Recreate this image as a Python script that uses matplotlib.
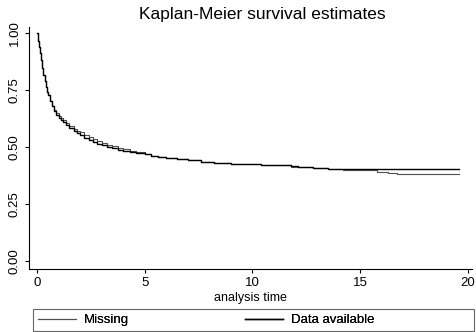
import matplotlib
matplotlib.use('Agg')
import matplotlib.pyplot as plt
from matplotlib.patches import Rectangle

plt.rcParams['font.family'] = ['Liberation Sans', 'DejaVu Sans']

# Kaplan-Meier step estimates
t_avail = [0, 0.05, 0.1, 0.15, 0.2, 0.25, 0.3, 0.35, 0.4, 0.45, 0.5, 0.6, 0.7, 0.8, 0.9,
           1.0, 1.1, 1.2, 1.35, 1.5, 1.7, 1.85, 2.0, 2.2, 2.4, 2.6, 2.8, 3.0, 3.25, 3.5,
           3.75, 4.0, 4.3, 4.6, 5.0, 5.3, 5.6, 6.0, 6.5, 7.0, 7.6, 8.2, 9.0, 9.7, 10.4,
           11.2, 11.8, 12.1, 12.8, 13.5, 14.2, 15.0, 19.6]
s_avail = [1.0, 0.965, 0.94, 0.912, 0.88, 0.845, 0.815, 0.79, 0.765, 0.743, 0.726, 0.7,
           0.678, 0.658, 0.641, 0.628, 0.618, 0.609, 0.595, 0.582, 0.568, 0.56, 0.552,
           0.54, 0.53, 0.522, 0.514, 0.507, 0.5, 0.494, 0.488, 0.483, 0.478, 0.473,
           0.468, 0.462, 0.457, 0.452, 0.446, 0.441, 0.435, 0.431, 0.427, 0.424, 0.422,
           0.42, 0.415, 0.411, 0.408, 0.405, 0.403, 0.402, 0.402]

t_miss = [0, 0.05, 0.1, 0.15, 0.2, 0.25, 0.3, 0.35, 0.4, 0.45, 0.5, 0.6, 0.7, 0.8, 0.9,
          1.0, 1.1, 1.2, 1.35, 1.5, 1.7, 1.85, 2.0, 2.2, 2.4, 2.6, 2.8, 3.0, 3.25, 3.5,
          3.75, 4.0, 4.3, 4.6, 5.0, 5.3, 5.6, 6.0, 6.5, 7.0, 7.6, 8.2, 9.0, 9.7, 10.4,
          11.2, 11.8, 12.1, 12.8, 13.5, 14.2, 15.0, 15.8, 16.3, 16.7, 19.6]
s_miss = [1.0, 0.965, 0.94, 0.912, 0.88, 0.845, 0.815, 0.79, 0.765, 0.743, 0.726, 0.7,
          0.68, 0.662, 0.647, 0.636, 0.627, 0.619, 0.606, 0.594, 0.58, 0.572, 0.565,
          0.553, 0.543, 0.534, 0.525, 0.518, 0.51, 0.503, 0.496, 0.489, 0.482, 0.476,
          0.469, 0.462, 0.457, 0.452, 0.446, 0.441, 0.435, 0.431, 0.427, 0.424, 0.422,
          0.419, 0.414, 0.41, 0.407, 0.404, 0.401, 0.397, 0.392, 0.388, 0.382, 0.382]

xticks = [0, 5, 10, 15, 20]
yticks = [0.0, 0.25, 0.5, 0.75, 1.0]
ytick_labels = ['0.00', '0.25', '0.50', '0.75', '1.00']

fig = plt.figure(figsize=(4.77, 3.32), dpi=100)
ax = fig.add_axes([0.0608, 0.1898, 0.9287, 0.7289])

l_miss, = ax.step(t_miss, s_miss, where='post', color='#505050', lw=0.8, label='Missing')
l_avail, = ax.step(t_avail, s_avail, where='post', color='black', lw=1.0, label='Data available')

ax.set_xlim(-0.37, 20.2)
ax.set_ylim(-0.035, 1.026)
ax.set_xticks(xticks)
ax.set_yticks(yticks)
ax.set_yticklabels(ytick_labels, rotation=90, va='center')
ax.tick_params(direction='out', length=3, width=0.8, labelsize=9.5, pad=3)
for side in ['top', 'right']:
    ax.spines[side].set_visible(False)
for side in ['left', 'bottom']:
    ax.spines[side].set_linewidth(0.8)

ax.set_xlabel('analysis time', fontsize=9, labelpad=2)
fig.text(0.549, 0.955, 'Kaplan-Meier survival estimates', ha='center', va='center', fontsize=12.5)

# legend box along the bottom, two entries at fixed spots
fig.add_artist(Rectangle((33 / 477, 1 / 332), 441 / 477, 22 / 332, transform=fig.transFigure,
                         fill=False, edgecolor='#666666', lw=0.8))
y_leg = 1 - 320 / 332
for line, x0 in [(l_miss, 38), (l_avail, 245)]:
    lg = fig.legend([line], [line.get_label()], loc='center left',
                    bbox_to_anchor=(x0 / 477, y_leg), frameon=False, borderpad=0,
                    borderaxespad=0, fontsize=9.5, handlelength=2.9, handletextpad=0.6)
    fig.add_artist(lg)

fig.savefig('out.png', dpi=100)
